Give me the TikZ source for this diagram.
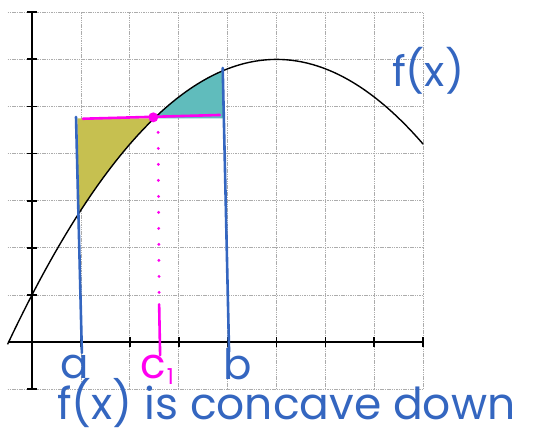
\documentclass[tikz,border=0pt]{standalone}
\usepackage{fontspec}
\newfontfamily\handfont{Poppins}
\usepackage{xcolor}
\usetikzlibrary{arrows.meta,positioning,calc}
\definecolor{inkblue}{RGB}{52,102,192}
\definecolor{inkpink}{RGB}{255,0,240}
\definecolor{hlyellow}{RGB}{198,192,80}
\definecolor{hlteal}{RGB}{96,188,188}

\begin{document}
\begin{tikzpicture}[x=48.9pt, y=47.1pt,
  gridline/.style={gray!65, line width=0.7pt, dash pattern=on 1.5pt off 0.8pt},
  axisline/.style={black, line width=1.8pt},
  curveline/.style={black, line width=1.4pt},
  inkline/.style={inkblue, line width=2.6pt, line cap=round},
  pinkline/.style={inkpink, line width=2.6pt, line cap=round},
  hand/.style={font=\handfont\fontsize{42}{42}\selectfont, inner sep=0pt}]
\useasboundingbox (-32pt,-92pt) rectangle (509pt,342pt);

\draw[gridline, step=1] (-0.5,-1) grid (8,7);
\draw[gridline] (-0.5,-1) -- (8,-1);

\fill[hlyellow] (0.93,4.75) -- plot[domain=2.5:0.93, samples=30] (\x,{6-0.2*(\x-5)^2}) -- cycle;
\fill[hlteal] (2.5,4.75) -- plot[domain=2.5:3.92, samples=30] (\x,{6-0.2*(\x-5)^2}) -- (3.92,4.75) -- cycle;

\draw[axisline] (-0.5,0) -- (8,0);
\draw[axisline] (0,-1) -- (0,7);
\foreach \y in {-1,1,2,3,4,5,6,7} {
  \draw[axisline] (-0.1,\y) -- (0.1,\y);
}
\foreach \x in {1,...,8} {
  \draw[axisline] (\x,-0.1) -- (\x,0.1);
}

\draw[curveline] plot[domain=-0.5:8, samples=80] (\x,{6-0.2*(\x-5)^2});

\coordinate (atop) at (0.9,4.78);
\coordinate (abot) at (1.02,-0.23);
\coordinate (btop) at (3.9,5.82);
\coordinate (bbot) at (4.03,-0.21);
\coordinate (pleft) at (1.04,4.74);
\coordinate (pright) at (3.84,4.82);
\coordinate (cpt) at (2.48,4.77);
\coordinate (ctop) at (2.58,4.45);
\coordinate (cmid) at (2.6,0.9);
\coordinate (cbot) at (2.62,-0.28);

\draw[inkline] (atop) -- (abot);
\draw[inkline] (btop) -- (bbot);
\draw[pinkline] (pleft) -- (pright);
\fill[inkpink] (cpt) circle (5pt);
\draw[inkpink, line width=3.2pt, line cap=round, dash pattern=on 0pt off 16pt] (ctop) -- (cmid);
\draw[pinkline] ($(cmid)+(0,-0.1)$) -- (cbot);

\node[hand, text=inkblue] (alab) at (0.88,-0.54) {a};
\node[hand, text=inkpink] (clab) at (2.56,-0.58) {c\kern1pt\raisebox{-6pt}{\fontsize{22}{22}\selectfont 1}};
\node[hand, text=inkblue] (blab) at (4.21,-0.48) {b};
\node[hand, text=inkblue] (flab) at (8.1,5.75) {f(x)};
\node[hand, text=inkblue, font=\handfont\fontsize{44}{44}\selectfont] (caption) at (5.2,-1.3) {f(x) is concave down};
\end{tikzpicture}
\end{document}
